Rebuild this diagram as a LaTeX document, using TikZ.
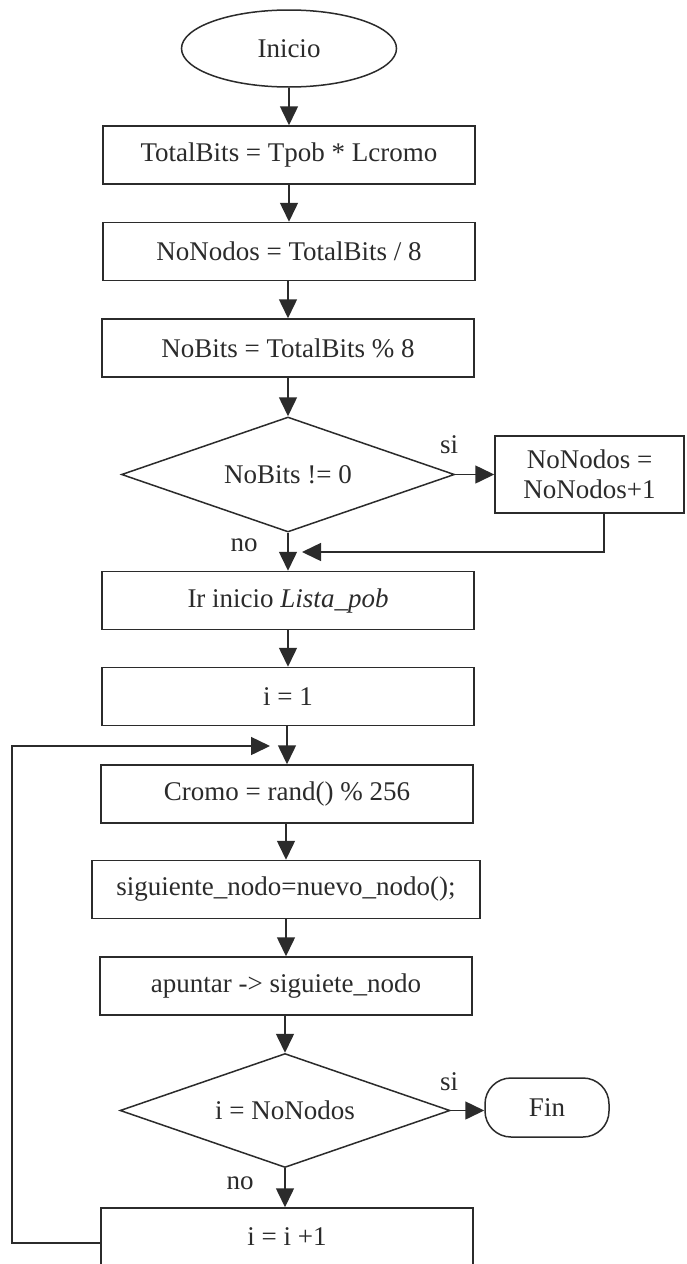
\documentclass[tikz,border=0pt]{standalone}
\usepackage{fontspec}
\setmainfont{Liberation Serif}
\usetikzlibrary{shapes.geometric,arrows.meta,calc}
\definecolor{ink}{HTML}{2B2B2B}

\begin{document}
\begin{tikzpicture}[x=1pt,y=-1pt,
  font=\fontsize{27}{30}\selectfont,
  every node/.style={text=ink},
  proc/.style={draw=ink, line width=1.5pt, rectangle, inner sep=0pt,
    minimum width=372pt, minimum height=58pt},
  decision/.style={draw=ink, line width=1.5pt, diamond, aspect=2.9,
    inner sep=0pt, minimum width=333pt, minimum height=115pt},
  startend/.style={draw=ink, line width=1.5pt, ellipse, inner sep=0pt,
    minimum width=215pt, minimum height=77pt},
  stopbox/.style={draw=ink, line width=1.5pt, rectangle, rounded corners=26pt,
    inner sep=0pt, minimum width=124pt, minimum height=59pt},
  flow/.style={draw=ink, line width=1.5pt, -{Triangle[length=19pt,width=18pt]}},
  link/.style={draw=ink, line width=1.5pt}]

% page
\fill[white] (0,0) rectangle (686,1264);
\useasboundingbox (0,0) rectangle (686,1264);

% main column
\node[startend] (ini) at (289,48.5) {Inicio};
\node[proc] (b1) at (289,155) {TotalBits = Tpob * Lcromo};
\node[proc] (b2) at (289,251.5) {NoNodos = TotalBits / 8};
\node[proc] (b3) at (288,348) {NoBits = TotalBits \% 8};
\node[decision] (d1) at (288,474.5) {NoBits != 0};
\node[proc, minimum width=189pt, minimum height=77pt, align=center] (nn)
  at (589.5,474.5) {NoNodos =\\NoNodos+1};
\node[proc] (ir) at (288,600.5) {Ir inicio \textit{Lista\_pob}};
\node[proc] (i1) at (288,696.5) {i = 1};
\node[proc] (cr) at (287,794) {Cromo = rand() \% 256};
\node[proc, minimum width=388pt] (sg) at (286,889.5) {siguiente\_nodo=nuevo\_nodo();};
\node[proc] (ap) at (286,986) {apuntar -> siguiete\_nodo};
\node[decision, minimum width=330pt, minimum height=114pt] (d2) at (285,1110.5) {i = NoNodos};
\node[stopbox] (fin) at (547,1107.5) {Fin};
\node[proc] (inc) at (287,1237) {i = i +1};

% branch labels
\node (si1) at (449,445) {si};
\node (no1) at (244,545) {no};
\node (si2) at (449,1082) {si};
\node (no2) at (240,1183) {no};

% bends of the return lines
\coordinate (mj) at (604,552);
\coordinate (lp) at (12,746);

% connectors
\draw[flow] (ini) -- (b1);
\draw[flow] (b1) -- (b2);
\draw[flow] (b2.south -| b3.north) -- (b3.north);
\draw[flow] (b3) -- (d1);
\draw[flow] (d1.east) -- (nn.west);
\draw[flow] (d1) -- (ir);
\draw[flow, shorten >=14pt] (nn.south -| mj) |- (d1.south |- mj);
\draw[flow] (ir) -- (i1);
\draw[flow] (i1.south -| cr.north) -- (cr.north);
\draw[flow] (cr.south -| sg.north) -- (sg.north);
\draw[flow] (sg) -- (ap);
\draw[flow] (ap.south -| d2.north) -- (d2.north);
\draw[flow] (d2.east) -- (d2.east -| fin.west);
\draw[flow] (d2.south) -- (d2.south |- inc.north);
\draw[flow, shorten >=17pt] ($(inc.west)+(0,6)$) -| (lp) -- (cr.north |- lp);

\end{tikzpicture}
\end{document}
